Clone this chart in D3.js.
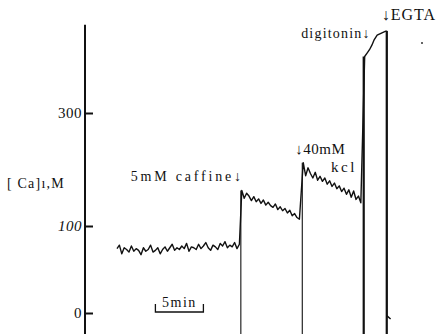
<!DOCTYPE html>
<html>
<head>
<meta charset="utf-8">
<script src="https://cdn.jsdelivr.net/npm/d3@7"></script>
<style>
  body { margin: 0; background: #fff; }
  svg text { font-family: "Liberation Serif", "DejaVu Serif", serif; fill: #111; }
</style>
</head>
<body>
<svg id="chart" width="441" height="334"></svg>
<script>
// time in minutes, [Ca]i in uM (trace sampled every 0.25 min)
const sampleStep = 0.25;
const baselineStart = 0;
const baselineVals = [74, 78, 68, 75, 73, 70, 77, 71, 74, 72, 67, 75, 71, 73, 78, 70, 72, 75, 68, 73,
  76, 71, 75, 79, 72, 75, 73, 77, 74, 80, 71, 76, 75, 73, 79, 74, 77, 81, 75, 72,
  78, 76, 73, 80, 77, 82, 75, 78, 76, 81, 74, 79];
const caffeineStart = 13.0;
const caffeineVals = [163, 149, 158, 153, 145, 152, 143, 148, 140, 146, 137, 142, 136, 133, 139, 129,
  134, 127, 131, 123, 128, 118, 122, 115, 112];
const kclStart = 19.4;
const kclVals = [212, 189, 203, 193, 185, 195, 181, 188, 179, 185, 174, 180, 170, 176, 166, 171,
  161, 167, 156, 164, 151, 162, 147, 153, 141];
const digitoninTimes = [25.8, 26.05, 26.3, 26.55, 26.8, 27.1, 27.6, 28.0];
const digitoninVals = [400, 406, 412, 420, 430, 438, 442, 445];
const egtaTimes = [28.1, 28.1, 28.5];
const egtaVals = [445, -3, -7];

const events = [
  { name: 'caffeine', t: 12.9, top: 163, bold: false },
  { name: 'kcl', t: 19.3, top: 212, bold: false },
  { name: 'digitonin', t: 25.7, top: 400, bold: true },
  { name: 'egta', t: 28.1, top: 445, bold: true }
];
const yTicks = [0, 100, 300];
const yTickLabels = ['0', '100', '300'];

const svg = d3.select('#chart');

// recorder calibration is not linear, so a piecewise scale
const x = d3.scaleLinear().domain([0, 30]).range([117, 405]);
const y = d3.scaleLinear().domain([0, 100, 300]).range([313, 226, 113]);

// build trace points
let trace = [];
baselineVals.forEach((v, i) => trace.push({ t: baselineStart + i * sampleStep, v: v }));
caffeineVals.forEach((v, i) => trace.push({ t: caffeineStart + i * sampleStep, v: v }));
kclVals.forEach((v, i) => trace.push({ t: kclStart + i * sampleStep, v: v }));
digitoninVals.forEach((v, i) => trace.push({ t: digitoninTimes[i], v: v }));
egtaVals.forEach((v, i) => trace.push({ t: egtaTimes[i], v: v }));

// y axis
const axisX = 85;
svg.append('line')
  .attr('x1', axisX).attr('x2', axisX)
  .attr('y1', y(456)).attr('y2', y(-24))
  .attr('stroke', '#111').attr('stroke-width', 2);

const yAxis = d3.axisLeft(y)
  .tickValues(yTicks)
  .tickFormat((d, i) => yTickLabels[i])
  .tickSizeInner(-8)
  .tickSizeOuter(0)
  .tickPadding(3);

const ax = svg.append('g')
  .attr('transform', `translate(${axisX}, 0)`)
  .call(yAxis);
ax.select('.domain').remove();
ax.selectAll('line').attr('stroke', '#111').attr('stroke-width', 2);
ax.selectAll('text')
  .attr('font-size', '15px')
  .attr('font-family', '"Liberation Serif", serif')
  .attr('font-style', d => d == 100 ? 'italic' : 'normal')
  .attr('letter-spacing', '0.5px')
  .attr('fill', '#111');

svg.append('text')
  .attr('x', 7).attr('y', 188)
  .attr('font-size', '14px')
  .attr('letter-spacing', '1.2px')
  .text('[ Ca]ı,M');

// event marker lines down to the chart bottom
svg.selectAll('.event')
  .data(events)
  .join('line')
  .attr('class', 'event')
  .attr('x1', d => x(d.t)).attr('x2', d => x(d.t))
  .attr('y1', d => y(d.top)).attr('y2', y(-24))
  .attr('stroke', '#111')
  .attr('stroke-width', d => d.bold ? 2.2 : 1.1);

// trace
const line = d3.line()
  .x(d => x(d.t))
  .y(d => y(d.v));
svg.append('path')
  .datum(trace)
  .attr('d', line)
  .attr('fill', 'none')
  .attr('stroke', '#111')
  .attr('stroke-width', 1.4)
  .attr('stroke-linejoin', 'round');

// annotations
const ann = svg.append('g');
ann.append('text')
  .attr('x', x(12.9) + 3).attr('y', 181)
  .attr('text-anchor', 'end')
  .attr('font-size', '14px')
  .attr('letter-spacing', '2.8px')
  .text('5mM caffine↓');
ann.append('text')
  .attr('x', x(19.3) - 7).attr('y', 154)
  .attr('font-size', '15px')
  .attr('letter-spacing', '0.5px')
  .text('↓40mM');
ann.append('text')
  .attr('x', 331).attr('y', 172)
  .attr('font-size', '15px')
  .attr('letter-spacing', '2.5px')
  .text('kcl');
ann.append('text')
  .attr('x', x(25.7) + 7).attr('y', 38)
  .attr('text-anchor', 'end')
  .attr('font-size', '14px')
  .attr('letter-spacing', '1.2px')
  .text('digitonin↓');
ann.append('text')
  .attr('x', x(28.1) - 5).attr('y', 20)
  .attr('font-family', '"Liberation Sans", sans-serif')
  .attr('font-size', '16px')
  .attr('letter-spacing', '1px')
  .text('↓EGTA');
ann.append('circle')
  .attr('cx', 422).attr('cy', 43).attr('r', 1).attr('fill', '#333');

// 5 min scale bar
const barY = y(0) - 1;
ann.append('path')
  .attr('d', `M${x(4)},${barY - 8}V${barY}H${x(9)}V${barY - 8}`)
  .attr('fill', 'none')
  .attr('stroke', '#111')
  .attr('stroke-width', 1.3);
ann.append('text')
  .attr('x', (x(4) + x(9)) / 2).attr('y', barY - 5)
  .attr('text-anchor', 'middle')
  .attr('font-size', '14px')
  .attr('letter-spacing', '1.5px')
  .text('5min');
</script>
</body>
</html>
